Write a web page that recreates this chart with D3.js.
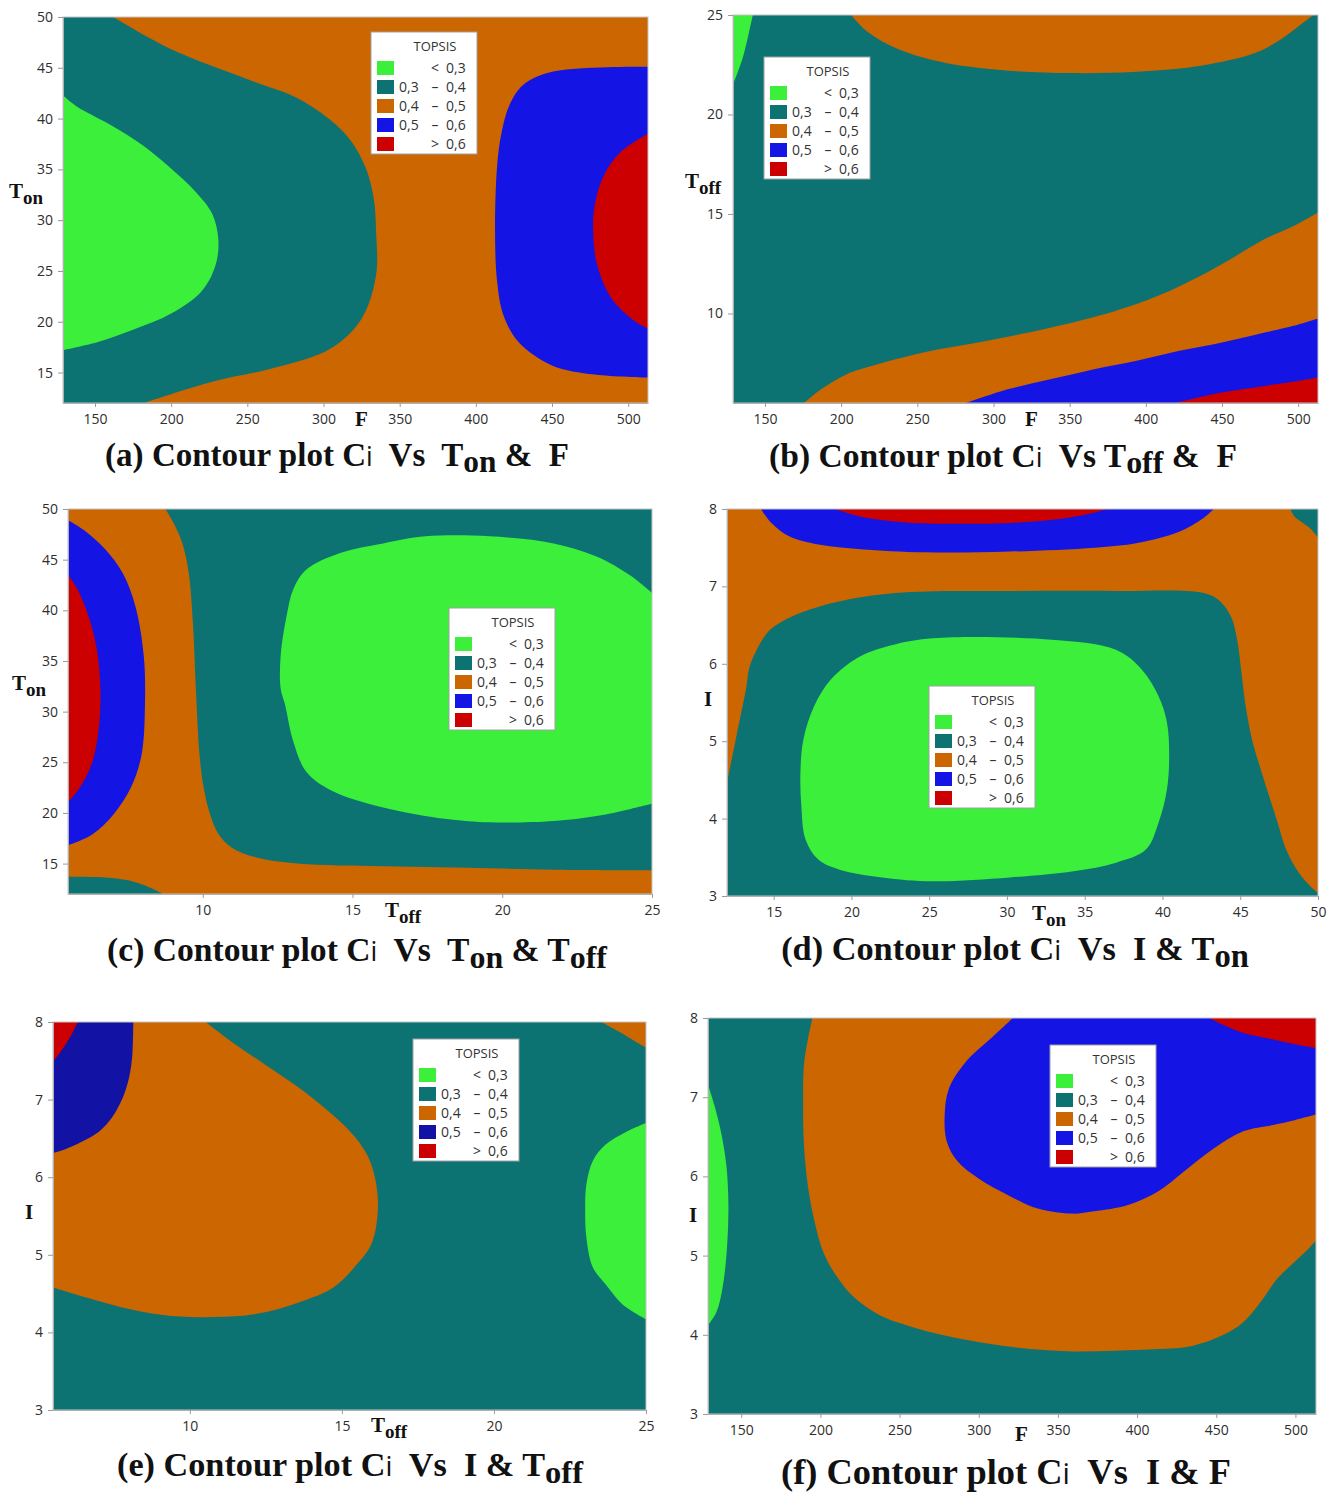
<!DOCTYPE html>
<html lang="en">
<head>
<meta charset="UTF-8">
<title>Contour plots Ci (TOPSIS)</title>
<script src="https://cdn.jsdelivr.net/npm/d3@7"></script>
<style>
    body{ margin:0; background:#ffffff; }
    .tick text{ font-family:"Open Sans","Noto Sans",sans-serif; font-size:14px; fill:#2e2e2e; }
    .tick line{ stroke:#9a9a9a; }
    .domain{ stroke:#b0b0b0; }
    .lab{ font-family:"Liberation Serif","Times New Roman",serif; font-weight:bold; fill:#111111; white-space:pre; }
    .leg text{ font-family:"Open Sans","Noto Sans",sans-serif; fill:#333333; }
</style>
</head>
<body>
<div id="chart"></div>
<script>
    var W = 1336, H = 1494;

    var COLORS = ["#3bef3b", "#0d7272", "#cc6600", "#1414e4", "#cc0000"];
    var BLUE_E = "#1212a4";

    // legend text
    var LEG_TITLE = "TOPSIS";
    var LEG_LO = ["", "0,3", "0,4", "0,5", ""];
    var LEG_SYM = ["<", "\u2013", "\u2013", "\u2013", ">"];
    var LEG_HI = ["0,3", "0,4", "0,5", "0,6", "0,6"];

    // tick values
    var F_TICKS = [150, 200, 250, 300, 350, 400, 450, 500];
    var TON_TICKS = [15, 20, 25, 30, 35, 40, 45, 50];
    var TOFF_TICKS = [10, 15, 20, 25];
    var TOFF_TICKS_B = [10, 15, 20, 25];
    var I_TICKS = [3, 4, 5, 6, 7, 8];

    // contour boundaries, [x, y] in data units
    // (a) Ton vs F
    var A_TEAL = [[162,50],[199,46.9],[255,43.6],[283,42],[313,38.7],[327,35.4],[333,32.1],[334.5,28.9],[334.5,24.6],[325,20.3],[305,17.4],[266,15.4],[227,14.1],[182,12]];
    var A_GREEN = [[129,42.3],[138,41.2],[160,39.4],[182,37.3],[199,35.2],[216,32.8],[227,30.6],[231,28],[229,25.5],[220,23],[200,20.8],[175,19.2],[152,18],[129,17.2]];
    var A_BLUE = [[513,45.1],[450,44.6],[431,43.3],[422,41.3],[417,38.7],[414,35.4],[412.6,28.9],[414,23.9],[418,20.7],[428,18],[450,15.7],[478,14.8],[513,14.5]];
    var A_RED = [[513,38.5],[495,36.7],[484,34.4],[478,31.5],[477,28.9],[479.6,25.6],[489,22.3],[503,20.2],[513,19.3]];

    // (b) Toff vs F
    var B_GREEN = [[142,25],[139.4,24.1],[135.2,22.8],[129,21.5]];
    var B_ORANGE_TOP = [[206.5,25],[217.7,24.13],[237.3,23.29],[268,22.6],[310,22.2],[352,22.08],[394,22.15],[436,22.45],[472,23.1],[489,23.8],[503,24.6],[510,25]];
    var B_ORANGE = [[175.7,5.5],[187,6.2],[203.7,6.95],[220.5,7.37],[254,8.04],[296,8.63],[338,9.3],[380,10.13],[408,10.89],[436,11.9],[455.5,12.73],[478,13.74],[497,14.4],[513,15.08]];
    var B_BLUE = [[282,5.5],[310,6.2],[338,6.7],[366,7.2],[394,7.62],[422,8.12],[450,8.54],[478,9.04],[497,9.38],[513,9.75]];
    var B_RED = [[419,5.5],[450,6.03],[478,6.36],[500,6.61],[513,6.78]];

    // (c) Ton vs Toff
    var C_ORANGE = [[8.75,50],[9.03,48.6],[9.32,46.6],[9.53,43.7],[9.67,38.8],[9.77,32.3],[9.89,25.8],[10.03,22.5],[10.24,19.9],[10.53,17.9],[10.96,16.6],[11.74,15.65],[13.17,15],[16.02,14.74],[18.87,14.6],[21.72,14.4],[25,14.35]];
    var C_TEAL_LOW = [[5.5,13.7],[6.75,13.63],[7.46,13.37],[8.03,12.88],[8.67,12]];
    var C_BLUE = [[5.5,48.9],[6.04,47.9],[6.75,46],[7.32,43.7],[7.75,40.4],[8.03,35.5],[8.07,30.65],[7.96,25.8],[7.6,22.5],[7.03,19.9],[6.32,17.9],[5.5,16.8]];
    var C_RED = [[5.5,43.5],[5.82,42.06],[6.18,39.46],[6.46,36.2],[6.58,32.3],[6.53,28.4],[6.32,25.1],[5.96,22.8],[5.5,21.0]];
    var C_GREEN = [[25,41.7],[24.29,43.4],[23.15,45.3],[21.72,46.6],[19.58,47.3],[17.44,47.3],[16.02,46.6],[14.59,45.65],[13.45,44.0],[13.02,42.06],[12.8,39.46],[12.6,35.5],[12.6,32.3],[12.75,30.65],[13.02,27.07],[13.45,24.1],[14.31,22.2],[16.02,20.55],[18.16,19.4],[19.58,19.07],[21.72,19.2],[23.15,19.7],[24.29,20.4],[25,20.9]];

    // (d) I vs Ton
    var D_TEAL = [[12,4.46],[12.54,5.0],[13.22,5.67],[13.5,5.99],[14.59,6.4],[15.41,6.53],[17.32,6.7],[19.79,6.83],[23.34,6.92],[30.18,6.94],[37.01,6.94],[42.48,6.92],[43.57,6.83],[44.4,6.61],[44.8,6.31],[45.08,5.88],[45.35,5.45],[45.76,5.02],[46.31,4.64],[46.86,4.29],[47.4,3.95],[47.95,3.6],[48.77,3.3],[49.59,3.11],[50,3.04]];
    var D_TEAL_CORNER = [[48.22,8],[48.5,7.9],[49.04,7.82],[49.6,7.73],[50,7.63]];
    var D_BLUE = [[14.18,8],[14.86,7.82],[15.96,7.65],[17.87,7.54],[20.61,7.48],[24.71,7.44],[30.18,7.45],[35.65,7.5],[38.38,7.56],[41.11,7.71],[42.48,7.86],[43.3,8]];
    var D_RED = [[18.96,8],[20.61,7.9],[23.34,7.83],[26.07,7.81],[30.18,7.82],[32.91,7.86],[35.1,7.93],[36.47,8]];
    var D_GREEN = [[25.25,6.33],[32.91,6.31],[37.01,6.18],[38.65,5.93],[39.75,5.58],[40.29,5.24],[40.43,4.81],[40.29,4.38],[39.75,3.95],[38.93,3.6],[37.01,3.43],[34.28,3.32],[30.18,3.24],[25.25,3.19],[21.97,3.24],[19.24,3.34],[17.87,3.47],[17.05,3.73],[16.78,4.16],[16.72,4.59],[16.91,5.02],[17.6,5.45],[18.69,5.8],[20.61,6.1],[22.79,6.25]];

    // (e) I vs Toff
    var E_ORANGE = [[10.52,8],[11.36,7.75],[12.48,7.45],[13.6,7.15],[14.44,6.89],[15.27,6.59],[15.83,6.29],[16.11,5.95],[16.18,5.56],[15.97,5.14],[15.41,4.84],[14.72,4.58],[13.6,4.39],[12.2,4.24],[10.8,4.2],[9.4,4.21],[8.0,4.3],[6.6,4.45],[5.5,4.58]];
    var E_ORANGE_CORNER = [[23.53,8],[24.09,7.88],[24.65,7.75],[25,7.67]];
    var E_BLUE = [[8.14,8],[8.11,7.58],[8.0,7.28],[7.79,7.02],[7.44,6.77],[7.02,6.59],[6.46,6.46],[5.9,6.36],[5.5,6.31]];
    var E_RED = [[6.32,8],[6.04,7.79],[5.76,7.62],[5.5,7.49]];
    var E_GREEN = [[25,6.7],[24.37,6.59],[23.67,6.42],[23.25,6.21],[23.04,5.91],[23.0,5.56],[23.04,5.22],[23.25,4.84],[23.67,4.62],[24.23,4.36],[25,4.17]];

    // (f) I vs F
    var F_ORANGE = [[195,8],[192.3,7.75],[189.6,7.41],[189.1,6.9],[189.6,6.4],[192.3,5.85],[196.3,5.43],[201.7,5.05],[211.2,4.71],[221.9,4.46],[238.1,4.24],[254.3,4.12],[278.5,3.99],[305.4,3.89],[332.4,3.82],[359.3,3.79],[386.3,3.8],[413.2,3.82],[434.8,3.86],[453.6,3.99],[467.1,4.16],[477.9,4.41],[488.6,4.71],[499.4,4.92],[507.5,5.07],[513,5.19]];
    var F_BLUE = [[321.6,8],[308.1,7.75],[292,7.45],[281.2,7.11],[278.5,6.78],[279.8,6.44],[286.6,6.19],[300.1,5.97],[318.9,5.76],[337.8,5.59],[359.3,5.53],[372.8,5.56],[394.3,5.64],[413.2,5.81],[429.4,6.06],[448.2,6.35],[467.1,6.57],[485.9,6.65],[499.4,6.71],[513,6.78]];
    var F_RED = [[445.5,8],[453.6,7.92],[467.1,7.81],[485.9,7.73],[502.1,7.66],[513,7.62]];
    var F_GREEN = [[129,7.16],[133,6.9],[137.1,6.57],[140.6,6.14],[141.9,5.64],[141.1,5.13],[138.4,4.62],[134.4,4.29],[129,4.12]];

    var PANELS = [
        {id:"a", box:[63,17,648,403], xd:[129,513], yd:[12,50], xt:F_TICKS, yt:TON_TICKS, base:2,
         layers:[{band:1, pts:A_TEAL, close:["bl","tl"]}, {band:0, pts:A_GREEN}, {band:3, pts:A_BLUE}, {band:4, pts:A_RED}],
         legend:[371,32],
         title:{cx:337, y:466, w:464, parts:[["(a) Contour plot C"],["i","sans"],["  Vs  T"],["on","sub"],[" &  F"]]},
         ylab:{x:9, y:198, parts:[["T"],["on","sub"]]}, xlab:{x:355, y:426, parts:[["F"]]}},
        {id:"b", box:[733,15,1318,403], xd:[129,513], yd:[5.5,25], xt:F_TICKS, yt:TOFF_TICKS_B, base:1,
         layers:[{band:0, pts:B_GREEN, close:["tl"]}, {band:2, pts:B_ORANGE_TOP}, {band:2, pts:B_ORANGE, close:["br"]}, {band:3, pts:B_BLUE, close:["br"]}, {band:4, pts:B_RED, close:["br"]}],
         legend:[764,57],
         title:{cx:1003, y:467, w:468, parts:[["(b) Contour plot C"],["i","sans"],["  Vs T"],["off","sub"],[" &  F"]]},
         ylab:{x:685, y:188, parts:[["T"],["off","sub"]]}, xlab:{x:1025, y:426, parts:[["F"]]}},
        {id:"c", box:[68,509,652,894], xd:[5.5,25], yd:[12,50], xt:TOFF_TICKS, yt:TON_TICKS, base:1,
         layers:[{band:2, pts:C_ORANGE, close:["br","bl","tl"]}, {band:1, pts:C_TEAL_LOW, close:["bl"]}, {band:3, pts:C_BLUE}, {band:4, pts:C_RED}, {band:0, pts:C_GREEN}],
         legend:[449,608],
         title:{cx:357, y:961, w:500, parts:[["(c) Contour plot C"],["i","sans"],["  Vs  T"],["on","sub"],[" & T"],["off","sub"]]},
         ylab:{x:12, y:690, parts:[["T"],["on","sub"]]}, xlab:{x:385, y:917, parts:[["T"],["off","sub"]]}},
        {id:"d", box:[727,509,1318,896], xd:[12,50], yd:[3,8], xt:TON_TICKS, yt:I_TICKS, base:2,
         layers:[{band:1, pts:D_TEAL, close:["br","bl"]}, {band:1, pts:D_TEAL_CORNER, close:["tr"]}, {band:3, pts:D_BLUE}, {band:4, pts:D_RED}, {band:0, pts:D_GREEN, closed:true}],
         legend:[929,686],
         title:{cx:1015, y:960, w:468, parts:[["(d) Contour plot C"],["i","sans"],["  Vs  I & T"],["on","sub"]]},
         ylab:{x:704, y:706, parts:[["I"]]}, xlab:{x:1032, y:920, parts:[["T"],["on","sub"]]}},
        {id:"e", box:[53,1022,646,1410], xd:[5.5,25], yd:[3,8], xt:TOFF_TICKS, yt:I_TICKS, base:1, blue:BLUE_E,
         layers:[{band:2, pts:E_ORANGE, close:["tl"]}, {band:2, pts:E_ORANGE_CORNER, close:["tr"]}, {band:3, pts:E_BLUE, close:["tl"]}, {band:4, pts:E_RED, close:["tl"]}, {band:0, pts:E_GREEN}],
         legend:[413,1039],
         title:{cx:350, y:1476, w:466, parts:[["(e) Contour plot C"],["i","sans"],["  Vs  I & T"],["off","sub"]]},
         ylab:{x:25, y:1219, parts:[["I"]]}, xlab:{x:371, y:1432, parts:[["T"],["off","sub"]]}},
        {id:"f", box:[708,1018,1316,1414], xd:[129,513], yd:[3,8], xt:F_TICKS, yt:I_TICKS, base:1,
         layers:[{band:2, pts:F_ORANGE, close:["tr"]}, {band:3, pts:F_BLUE, close:["tr"]}, {band:4, pts:F_RED, close:["tr"]}, {band:0, pts:F_GREEN}],
         legend:[1050,1045],
         title:{cx:1006, y:1484, w:450, parts:[["(f) Contour plot C"],["i","sans"],["  Vs  I & F"]]},
         ylab:{x:689, y:1222, parts:[["I"]]}, xlab:{x:1015, y:1441, parts:[["F"]]}}
    ];

    var svg = d3.select("#chart").append("svg")
        .attr("width", W)
        .attr("height", H);

    function writeLabel(sel, parts, size, subSize, subDrop){
        var offset = 0;
        parts.forEach(function(p){
            var t = sel.append("tspan").text(p[0]);
            if (p[1] === "sub"){
                t.attr("dy", subDrop - offset).style("font-size", subSize + "px");
                offset = subDrop;
            } else {
                t.attr("dy", -offset);
                offset = 0;
                if (p[1] === "sans"){
                    t.style("font-family", "'Open Sans','Noto Sans',sans-serif")
                        .style("font-weight", "normal")
                        .style("font-size", (size * 0.8) + "px");
                }
            }
        });
    }

    PANELS.forEach(function(P){
        var x0 = P.box[0], y0 = P.box[1], x1 = P.box[2], y1 = P.box[3];
        var x = d3.scaleLinear().domain(P.xd).range([x0, x1]);
        var y = d3.scaleLinear().domain(P.yd).range([y1, y0]);
        var colors = COLORS.slice();
        if (P.blue) colors[3] = P.blue;

        var g = svg.append("g").attr("class", "panel-" + P.id);

        g.append("clipPath").attr("id", "clip-" + P.id)
            .append("rect")
            .attr("x", x0).attr("y", y0)
            .attr("width", x1 - x0).attr("height", y1 - y0);

        var plot = g.append("g").attr("clip-path", "url(#clip-" + P.id + ")");

        plot.append("rect")
            .attr("x", x0).attr("y", y0)
            .attr("width", x1 - x0).attr("height", y1 - y0)
            .attr("fill", colors[P.base]);

        var corner = {
            tl: [P.xd[0], P.yd[1]], tr: [P.xd[1], P.yd[1]],
            bl: [P.xd[0], P.yd[0]], br: [P.xd[1], P.yd[0]]
        };

        P.layers.forEach(function(L){
            var line = d3.line()
                .x(function(d){ return x(d[0]); })
                .y(function(d){ return y(d[1]); })
                .curve(L.closed ? d3.curveCatmullRomClosed.alpha(0.5) : d3.curveCatmullRom.alpha(0.5));
            var d = line(L.pts);
            (L.close || []).forEach(function(c){
                d += "L" + x(corner[c][0]) + "," + y(corner[c][1]);
            });
            plot.append("path")
                .attr("d", d + "Z")
                .attr("fill", colors[L.band])
                .attr("stroke", "none");
        });

        g.append("rect")
            .attr("x", x0).attr("y", y0)
            .attr("width", x1 - x0).attr("height", y1 - y0)
            .attr("fill", "none")
            .attr("stroke", "#c4c4c4")
            .attr("stroke-width", 1);

        g.append("g")
            .attr("transform", "translate(0," + y1 + ")")
            .call(d3.axisBottom(x).tickValues(P.xt).tickSize(4).tickSizeOuter(0).tickPadding(7).tickFormat(d3.format("d")));

        g.append("g")
            .attr("transform", "translate(" + x0 + ",0)")
            .call(d3.axisLeft(y).tickValues(P.yt).tickSize(5).tickSizeOuter(0).tickPadding(5).tickFormat(d3.format("d")));

        // axis labels
        var yl = g.append("text").attr("class", "lab")
            .attr("x", P.ylab.x).attr("y", P.ylab.y)
            .style("font-size", "21px");
        writeLabel(yl, P.ylab.parts, 21, 19, 6);

        var xl = g.append("text").attr("class", "lab")
            .attr("x", P.xlab.x).attr("y", P.xlab.y)
            .style("font-size", "21px");
        writeLabel(xl, P.xlab.parts, 21, 19, 6);

        // legend
        var lg = g.append("g").attr("class", "leg")
            .attr("transform", "translate(" + P.legend[0] + "," + P.legend[1] + ")");
        lg.append("rect")
            .attr("width", 106).attr("height", 122)
            .attr("fill", "#ffffff")
            .attr("stroke", "#a0a0a0");
        lg.append("text")
            .attr("x", 64).attr("y", 19)
            .attr("text-anchor", "middle")
            .style("font-size", "13px")
            .text(LEG_TITLE);
        COLORS.forEach(function(c, i){
            var ry = 29 + i * 19;
            lg.append("rect")
                .attr("x", 6).attr("y", ry)
                .attr("width", 17).attr("height", 14)
                .attr("fill", colors[i]);
            lg.append("text").attr("x", 28).attr("y", ry + 12)
                .style("font-size", "14px").text(LEG_LO[i]);
            lg.append("text").attr("x", 64).attr("y", ry + 12)
                .attr("text-anchor", "middle")
                .style("font-size", "14px").text(LEG_SYM[i]);
            lg.append("text").attr("x", 75).attr("y", ry + 12)
                .style("font-size", "14px").text(LEG_HI[i]);
        });

        // panel caption
        var base = 31;
        var tt = g.append("text").attr("class", "lab")
            .attr("x", P.title.cx).attr("y", P.title.y)
            .attr("text-anchor", "middle")
            .style("font-size", base + "px");
        writeLabel(tt, P.title.parts, base, base * 0.95, 7);
        var wNow = tt.node().getComputedTextLength();
        if (wNow > 0){
            var k = P.title.w / wNow;
            var fs = base * k;
            tt.selectAll("tspan").remove();
            tt.style("font-size", fs + "px");
            writeLabel(tt, P.title.parts, fs, fs * 0.95, 6 * k);
        }
    });
</script>
</body>
</html>
